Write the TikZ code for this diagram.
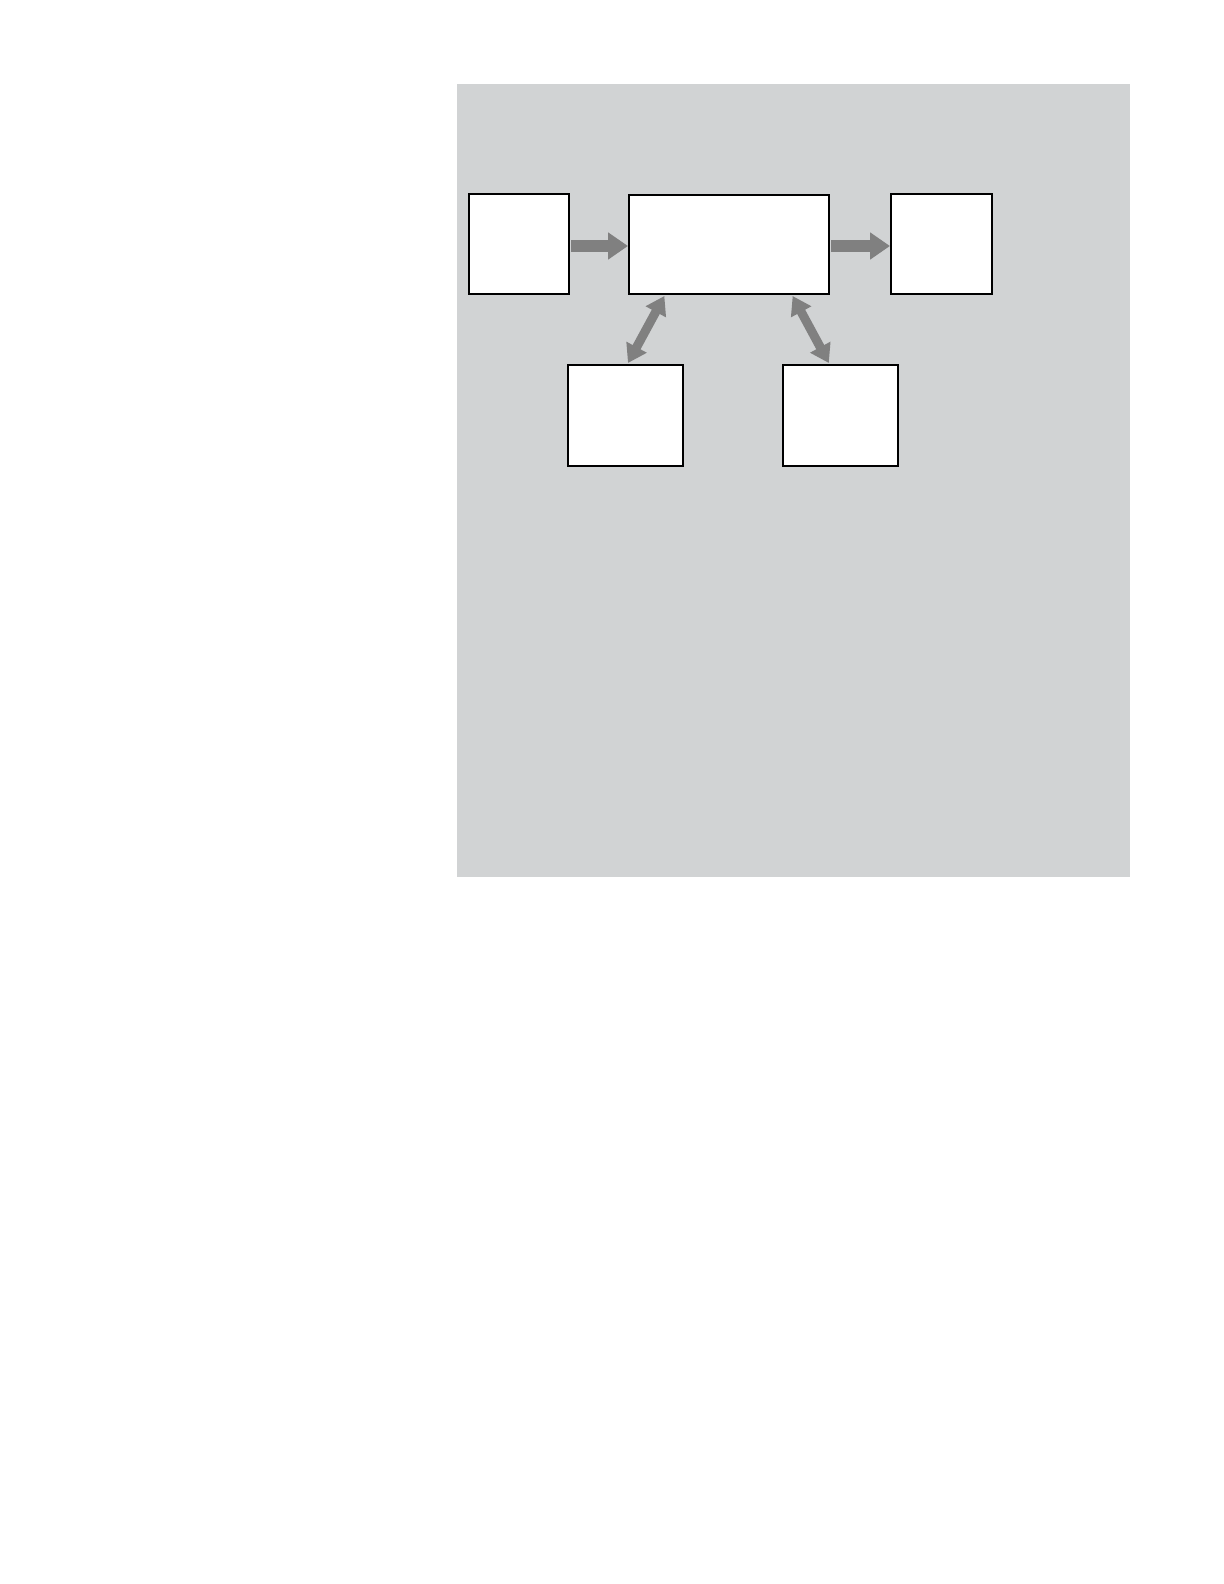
\documentclass[tikz,border=0pt]{standalone}
\usetikzlibrary{arrows.meta,calc}
\definecolor{panelgray}{HTML}{D1D3D4}
\definecolor{arrowgray}{HTML}{808080}
\tikzset{
  blockbox/.style={draw=black,line width=1pt,fill=white,inner sep=0pt},
  flowarrow/.style={draw=arrowgray,line width=6pt,-{Triangle[length=10pt,width=13pt]}},
  duplexarrow/.style={draw=arrowgray,line width=4.5pt,{Triangle[length=9pt,width=11pt]}-{Triangle[length=9pt,width=11pt]}}
}
\begin{document}
\begin{tikzpicture}[x=0.5pt,y=-0.5pt]
\useasboundingbox[fill=white] (0,0) rectangle (1224,1584);
\fill[panelgray] (457,84) rectangle (1130,877);
\node[blockbox,minimum width=50pt,minimum height=50pt] (L) at (519,244) {};
\node[blockbox,minimum width=100pt,minimum height=49.5pt] (C) at (729,244.5) {};
\node[blockbox,minimum width=50.5pt,minimum height=50pt] (R) at (941.5,244) {};
\node[blockbox,minimum width=57.5pt,minimum height=50.5pt] (BL) at (625.5,415.5) {};
\node[blockbox,minimum width=57.5pt,minimum height=50.5pt] (BR) at (840.5,415.5) {};
\draw[flowarrow] ($(L.east)+(1,2)$) -- ($(C.west)+(0,1.5)$);
\draw[flowarrow] ($(C.east)+(1,1.5)$) -- ($(R.west)+(0,2)$);
\draw[duplexarrow] ($(C.south west)!0.18!(C.south east)+(0,1)$) -- ($(BL.north)+(2.5,-1)$);
\draw[duplexarrow] ($(C.south west)!0.815!(C.south east)+(0,1)$) -- ($(BR.north west)!0.4!(BR.north east)+(0,-1)$);
\end{tikzpicture}
\end{document}
